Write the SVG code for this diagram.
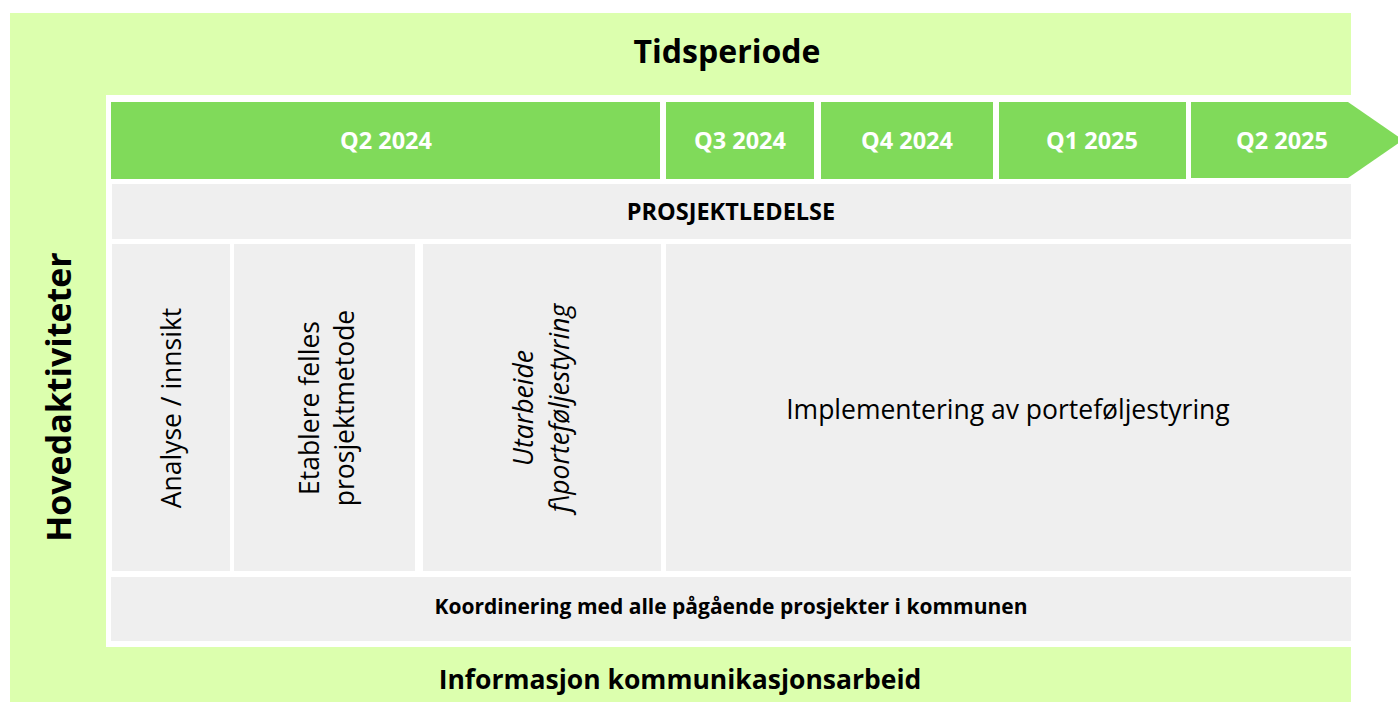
<svg xmlns="http://www.w3.org/2000/svg" width="1398" height="702" viewBox="0 0 1398 702">
  <style>
    text { font-family: "Open Sans", "Liberation Sans", sans-serif; fill: #000; }
    .lg { fill: #dcffae; }
    .dg { fill: #80da5a; }
    .gr { fill: #efefef; }
    .b { font-weight: 700; }
    .q { font-weight: 700; font-size: 23.5px; fill: #fff; text-anchor: middle; }
    .c { text-anchor: middle; }
    .v { font-size: 26.5px; text-anchor: middle; }
  </style>
  <rect x="0" y="0" width="1398" height="702" fill="#fff"/>
  <g id="frame">
    <rect class="lg" x="10" y="13" width="1341" height="689"/>
    <rect x="106" y="95" width="1245" height="552" fill="#fff"/>
  </g>
  <g id="tidsperiode">
    <text class="b c" x="727" y="63" font-size="32">Tidsperiode</text>
  </g>
  <g id="hovedaktiviteter">
    <text class="b c" transform="translate(71,397) rotate(-90)" font-size="34">Hovedaktiviteter</text>
  </g>
  <g id="q2-2024">
    <rect class="dg" x="111" y="102" width="549" height="77"/>
    <text class="q" x="386" y="149">Q2 2024</text>
  </g>
  <g id="q3-2024">
    <rect class="dg" x="666" y="102" width="148" height="77"/>
    <text class="q" x="740" y="149">Q3 2024</text>
  </g>
  <g id="q4-2024">
    <rect class="dg" x="821" y="102" width="172" height="77"/>
    <text class="q" x="907" y="149">Q4 2024</text>
  </g>
  <g id="q1-2025">
    <rect class="dg" x="999" y="102" width="187" height="77"/>
    <text class="q" x="1092" y="149">Q1 2025</text>
  </g>
  <g id="q2-2025">
    <polygon class="dg" points="1191,102 1348,102 1403,140 1348,178 1191,178"/>
    <text class="q" x="1282" y="149">Q2 2025</text>
  </g>
  <g id="prosjektledelse">
    <rect class="gr" x="112" y="184" width="1239" height="55"/>
    <text class="b c" x="731" y="220" font-size="23.5">PROSJEKTLEDELSE</text>
  </g>
  <g id="analyse">
    <rect class="gr" x="112" y="244" width="118" height="327"/>
    <text class="v" transform="translate(181,408) rotate(-90)">Analyse / innsikt</text>
  </g>
  <g id="etablere">
    <rect class="gr" x="234" y="244" width="181" height="327"/>
    <text class="v" transform="translate(319,408) rotate(-90)">Etablere felles</text>
    <text class="v" transform="translate(354,408) rotate(-90)">prosjektmetode</text>
  </g>
  <g id="utarbeide">
    <rect class="gr" x="423" y="244" width="238" height="327"/>
    <text class="v" font-style="italic" transform="translate(533,408) rotate(-90)">Utarbeide</text>
    <text class="v" font-style="italic" transform="translate(569,408) rotate(-90)">f\porteføljestyring</text>
  </g>
  <g id="implementering">
    <rect class="gr" x="666" y="244" width="685" height="327"/>
    <text class="c" x="1008" y="419" font-size="26.5">Implementering av porteføljestyring</text>
  </g>
  <g id="koordinering">
    <rect class="gr" x="111" y="577" width="1240" height="64"/>
    <text class="b c" x="731" y="614" font-size="21">Koordinering med alle pågående prosjekter i kommunen</text>
  </g>
  <g id="informasjon">
    <text class="b c" x="680" y="689" font-size="26.5">Informasjon kommunikasjonsarbeid</text>
  </g>
  <g id="connectors"></g>
</svg>
